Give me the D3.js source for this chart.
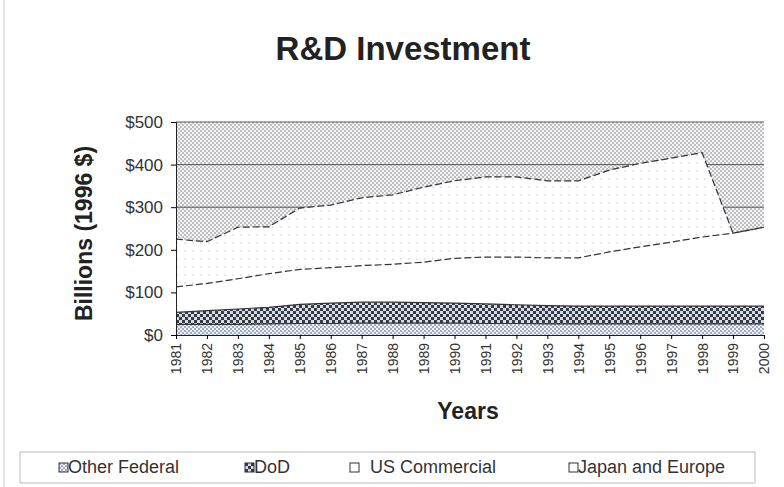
<!DOCTYPE html>
<html>
<head>
<meta charset="utf-8">
<script src="https://d3js.org/d3.v7.min.js"></script>
<style>
  body { margin: 0; background: #fff; }
  text { font-family: Arial, "Liberation Sans", sans-serif; }
</style>
</head>
<body>
<div id="graph"></div>
<script>
var years = [1981, 1982, 1983, 1984, 1985, 1986, 1987, 1988, 1989, 1990,
             1991, 1992, 1993, 1994, 1995, 1996, 1997, 1998, 1999, 2000];
var otherFederal = [25, 25, 25, 26, 27, 27, 28, 28, 28, 28, 27, 27, 26, 26, 26, 26, 26, 26, 26, 26];
var dod = [28, 32, 36, 39, 45, 48, 49, 49, 48, 47, 46, 44, 43, 42, 42, 42, 42, 42, 42, 42];
var usCommercial = [60, 64, 71, 79, 82, 83, 86, 89, 95, 105, 110, 112, 112, 113, 127, 139, 150, 162, 171, 185];
var japanEurope = [112, 98, 121, 110, 144, 147, 159, 163, 176, 182, 188, 188, 181, 181, 192, 196, 197, 198, 0, 0];
var seriesNames = ["Other Federal", "DoD", "US Commercial", "Japan and Europe"];
var yTicks = [0, 100, 200, 300, 400, 500];

var W = 784, H = 487;
var margin = { top: 122, right: 20, bottom: 152, left: 176 },
  width = 764 - margin.left,
  height = H - margin.top - margin.bottom;

var svg = d3.select("#graph").append("svg")
  .attr("width", W)
  .attr("height", H);

// fill patterns (scanned halftone look)
var defs = svg.append("defs");
function checker(id, size, color, bg) {
  var p = defs.append("pattern")
    .attr("id", id)
    .attr("patternUnits", "userSpaceOnUse")
    .attr("width", size * 2).attr("height", size * 2);
  p.append("rect").attr("width", size * 2).attr("height", size * 2).attr("fill", bg);
  p.append("rect").attr("width", size).attr("height", size).attr("fill", color);
  p.append("rect").attr("x", size).attr("y", size).attr("width", size).attr("height", size).attr("fill", color);
}
checker("bgPat", 2, "#bfbfc3", "#f4f4f4");
checker("ofPat", 2, "#a3aec2", "#eef0f4");
checker("dodPat", 3, "#353b48", "#d8dbe2");
var jp = defs.append("pattern")
  .attr("id", "jePat")
  .attr("patternUnits", "userSpaceOnUse")
  .attr("width", 8).attr("height", 8);
jp.append("rect").attr("width", 8).attr("height", 8).attr("fill", "#fff");
jp.append("rect").attr("width", 2).attr("height", 2).attr("fill", "#eee6e6");

var fills = ["url(#ofPat)", "url(#dodPat)", "#ffffff", "url(#jePat)"];

var rows = years.map(function(y, i) {
  return { year: y, "Other Federal": otherFederal[i], "DoD": dod[i],
           "US Commercial": usCommercial[i], "Japan and Europe": japanEurope[i] };
});

var x = d3.scaleLinear().domain(d3.extent(years)).range([0, width]);
var y = d3.scaleLinear().domain([0, 500]).range([height, 0]);

var g = svg.append("g")
  .attr("transform", "translate(" + margin.left + "," + margin.top + ")");

// plot area background
g.append("rect")
  .attr("width", width).attr("height", height)
  .attr("fill", "url(#bgPat)");

// gridlines
g.selectAll(".grid")
  .data(yTicks.slice(1))
  .enter().append("line")
  .attr("x1", 0).attr("x2", width)
  .attr("y1", function(d) { return y(d); })
  .attr("y2", function(d) { return y(d); })
  .attr("stroke", "#555").attr("stroke-width", 1);

var stacked = d3.stack().keys(seriesNames)(rows);

var area = d3.area()
  .x(function(d) { return x(d.data.year); })
  .y0(function(d) { return y(d[0]); })
  .y1(function(d) { return y(d[1]); });

var topLine = d3.line()
  .x(function(d) { return x(d.data.year); })
  .y(function(d) { return y(d[1]); });

g.selectAll(".layer")
  .data(stacked)
  .enter().append("path")
  .attr("class", "layer")
  .attr("d", area)
  .attr("fill", function(d, i) { return fills[i]; });

g.selectAll(".edge")
  .data(stacked)
  .enter().append("path")
  .attr("class", "edge")
  .attr("d", topLine)
  .attr("fill", "none")
  .attr("stroke", "#333")
  .attr("stroke-width", 1.2)
  .attr("stroke-dasharray", function(d, i) { return i >= 2 ? "7,3" : null; });

// axes
var yAxis = g.append("g")
  .call(d3.axisLeft(y).tickValues(yTicks).tickSize(5)
    .tickFormat(function(d) { return "$" + d; }));
yAxis.select(".domain").attr("stroke", "#222");
yAxis.selectAll("text")
  .attr("x", -13)
  .style("font-size", "17px")
  .attr("fill", "#333");

var xAxis = g.append("g")
  .attr("transform", "translate(0," + height + ")")
  .call(d3.axisBottom(x).tickValues(years).tickSize(4).tickFormat(d3.format("d")));
xAxis.select(".domain").attr("stroke", "#222");
xAxis.selectAll("text")
  .attr("transform", "rotate(-90)")
  .attr("x", -8).attr("y", 0).attr("dy", "0.35em")
  .style("text-anchor", "end")
  .style("font-size", "14px")
  .attr("fill", "#333");

// title and axis labels
svg.append("text")
  .attr("x", 403).attr("y", 60)
  .style("text-anchor", "middle")
  .style("font-size", "33px").style("font-weight", "bold")
  .attr("fill", "#222")
  .text("R&D Investment");

svg.append("text")
  .attr("transform", "translate(92," + (margin.top + height / 2 + 5) + ") rotate(-90)")
  .style("text-anchor", "middle")
  .style("font-size", "23px").style("font-weight", "bold")
  .attr("fill", "#222")
  .text("Billions (1996 $)");

svg.append("text")
  .attr("x", 468).attr("y", 419)
  .style("text-anchor", "middle")
  .style("font-size", "23px").style("font-weight", "bold")
  .attr("fill", "#222")
  .text("Years");

// outer frame line on the left
svg.append("line")
  .attr("x1", 4).attr("x2", 4).attr("y1", 0).attr("y2", H)
  .attr("stroke", "#ccc");

// legend
var legend = svg.append("g");
legend.append("rect")
  .attr("x", 20).attr("y", 452).attr("width", 735).attr("height", 31)
  .attr("fill", "none").attr("stroke", "#bbb");
var legX = [59, 245, 350, 569];
var legGap = [9, 9, 20, 9];
var legItem = legend.selectAll(".leg")
  .data(seriesNames)
  .enter().append("g")
  .attr("transform", function(d, i) { return "translate(" + legX[i] + ",463)"; });
legItem.append("rect")
  .attr("width", 9).attr("height", 9)
  .attr("fill", function(d, i) { return fills[i]; })
  .attr("stroke", "#333");
legItem.append("text")
  .attr("x", function(d, i) { return legGap[i]; })
  .attr("y", 10)
  .style("font-size", "18px")
  .attr("fill", "#333")
  .text(function(d) { return d; });
</script>
</body>
</html>
